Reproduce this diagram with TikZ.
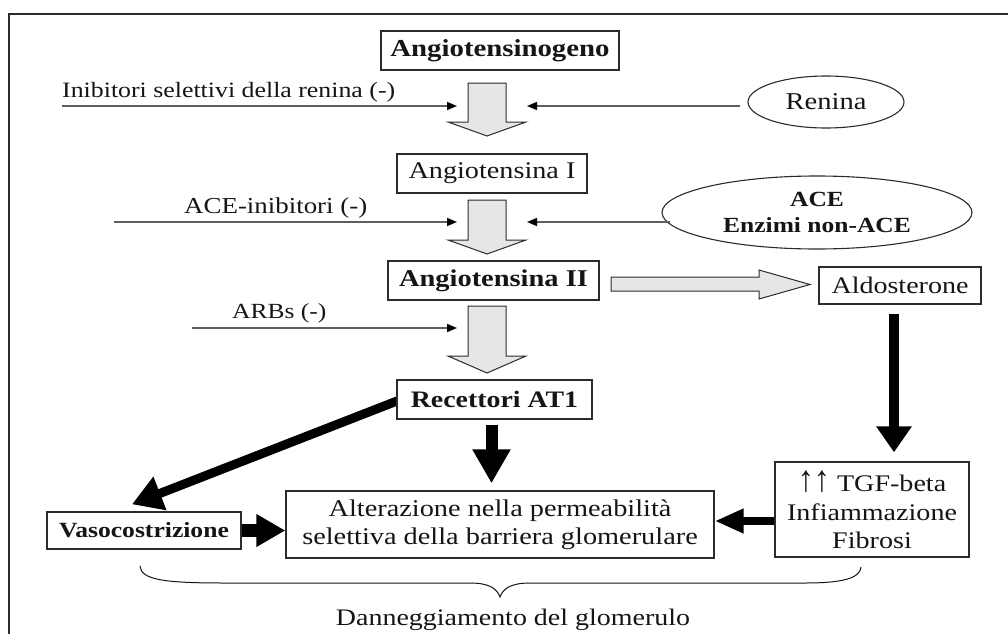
\documentclass[tikz,border=0pt]{standalone}
\usepackage{fontspec}
\usepackage{graphicx}
\setmainfont{Liberation Serif}[FakeStretch=1.18]
\usetikzlibrary{arrows.meta,shapes.geometric,calc,backgrounds}

\definecolor{ink}{HTML}{151515}
\definecolor{boxc}{HTML}{2B2B2B}
\definecolor{linec}{HTML}{5E5E5E}
\definecolor{blockfill}{HTML}{E6E6E6}

\newcommand\fsz[1]{\fontsize{#1}{28.5}\selectfont}
\newcommand\upup{\raisebox{0.5pt}{\scalebox{1.15}[1.55]{↑↑}}}

\begin{document}
\begin{tikzpicture}[x=1pt,y=-1pt,
  box/.style={draw=boxc, line width=1.4pt, fill=white, inner sep=0pt, text=ink, align=center},
  oval/.style={ellipse, draw=boxc, line width=1.1pt, fill=white, inner sep=0pt, text=ink, align=center},
  label/.style={inner sep=0pt, text=ink},
  inhib/.style={draw=linec, line width=1.5pt, -{Triangle[length=10pt,width=8pt,color=black]}},
  blockarr/.style={fill=blockfill, draw=boxc, line width=1pt, line join=miter},
  heavy/.style={draw=black, line width=#1},
  frameline/.style={draw=boxc, line width=1.8pt},
  brace/.style={draw=ink, line width=1pt}
]
\useasboundingbox (0,0) rectangle (1008,634);

% outer frame
\draw[frameline] (9,634) -- (9,14) -- (1008,14);

% chain of boxes
\node[box, minimum width=238, minimum height=39, font=\fsz{24.4}\bfseries] (ango) at (500,50.5) {Angiotensinogeno};
\node[box, minimum width=190, minimum height=39, font=\fsz{23.9}] (ang1) at (492,173.5) {Angiotensina I};
\node[box, minimum width=211, minimum height=39, font=\fsz{24.1}\bfseries] (ang2) at (493.5,280.5) {Angiotensina II};
\node[box, minimum width=162, minimum height=37, font=\fsz{23.75}] (aldo) at (900,285.5) {Aldosterone};
\node[box, minimum width=195, minimum height=39, font=\fsz{23.6}\bfseries] (rec) at (494.5,399.5) {Recettori AT1};
\node[box, minimum width=194, minimum height=37, font=\fsz{21.7}\bfseries] (vaso) at (144,530.5) {Vasocostrizione};
\node[box, minimum width=428, minimum height=67, font=\fsz{24}] (alt) at (500,524.5)
  {Alterazione nella permeabilità\\selettiva della barriera glomerulare};
\node[box, minimum width=194, minimum height=95, font=\fsz{23.8}] (tgf) at (872,509.5)
  {\upup\ TGF-beta\\Infiammazione\\Fibrosi};

% enzymes
\node[oval, minimum width=156, minimum height=52, font=\fsz{24.2}] (renina) at (826,102) {Renina};
\node[oval, minimum width=310, minimum height=73, font=\fontsize{21.6}{26}\selectfont\bfseries] (ace) at (817,212.5)
  {ACE\\Enzimi non-ACE};

% inhibitor labels
\node[label, anchor=base west, font=\fsz{21.9}] (inibtxt) at (62,97) {Inibitori selettivi della renina (-)};
\node[label, anchor=base west, font=\fsz{22.8}] (acetxt) at (184,213) {ACE-inibitori (-)};
\node[label, anchor=base west, font=\fsz{21.6}] (arbtxt) at (232,318) {ARBs (-)};

\node[label, anchor=base, font=\fsz{23.7}] (dann) at (513,625) {Danneggiamento del glomerulo};

% grey block arrows along the cascade
\newcommand\downblock[4]{% x, top, head base, tip
  \filldraw[blockarr] ({#1-19},#2) -- ({#1+19},#2) -- ({#1+19},#3) -- ({#1+39},#3)
    -- (#1,#4) -- ({#1-39},#3) -- ({#1-19},#3) -- cycle;}
\downblock{487}{83}{122}{136}
\downblock{487}{200}{240}{254}
\downblock{487}{306}{356}{373}
\filldraw[blockarr] (611,277) -- (759,277) -- (759,270) -- (810,284.5) -- (759,299)
  -- (759,291) -- (611,291) -- cycle;

% inhibitors and enzymes acting on each step
\coordinate (inibS) at (62,106);   \coordinate (inibT) at (457,106);
\coordinate (renS) at ($(renina.west)+(-7,4)$); \coordinate (renT) at (527,106);
\coordinate (aceiS) at (114,222);  \coordinate (aceiT) at (457,222);
\coordinate (aceS) at (670,222);   \coordinate (aceT) at (527,222);
\coordinate (arbS) at (192,328);   \coordinate (arbT) at (457,328);
\draw[inhib] (inibS) -- (inibT);
\draw[inhib] (renS) -- (renT);
\draw[inhib] (aceiS) -- (aceiT);
\draw[inhib] (aceS) -- (aceT);
\draw[inhib] (arbS) -- (arbT);

% black effect arrows
\begin{scope}[on background layer]
\draw[heavy=9pt, -{Triangle[length=30pt,width=34pt]}] ($(rec.west)+(2,1)$) -- ($(vaso.north)+(-12,-7)$);
\end{scope}
\draw[heavy=12pt, -{Triangle[length=34pt,width=36pt]}] ($(rec.south)+(-3,5)$) -- ($(alt.north)+(-8.5,-7)$);
\draw[heavy=10pt, -{Triangle[length=26pt,width=34pt]}] ($(aldo.south)+(-6,9)$) -- ($(tgf.north)+(22,-9)$);
\draw[heavy=13pt, -{Triangle[length=29pt,width=31pt]}] (vaso.east) -- (vaso.east -| alt.west);
\draw[heavy=8pt, -{Triangle[length=29pt,width=23pt]}] ($(tgf.west)+(0,11.5)$) -- ($(alt.east)+(0,-3.5)$);

% brace grouping the three effects
\draw[brace] (140,566) .. controls (141,580) and (165,583) .. (225,583)
  -- (470,583) .. controls (490,583) and (497,589) .. (500,597)
  .. controls (503,589) and (510,583) .. (530,583)
  -- (805,583) .. controls (850,583) and (860,576) .. (861,567);
\end{tikzpicture}
\end{document}
